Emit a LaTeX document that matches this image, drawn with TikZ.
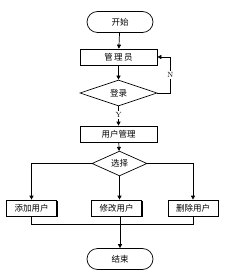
\documentclass[tikz,border=0pt]{standalone}
\usepackage{fontspec}
\newfontfamily\cjk{Noto Sans CJK SC}
\usetikzlibrary{shapes.geometric,shapes.misc,arrows.meta,shadows}
\begin{document}
\begin{tikzpicture}[x=1pt,y=-1pt,
  every node/.style={font=\cjk\fontsize{8.5}{9}\selectfont, inner sep=0pt},
  proc/.style={draw, line width=0.7pt, fill=white, minimum width=77pt, minimum height=16pt,
     drop shadow={shadow xshift=1pt, shadow yshift=-1pt, fill=black, opacity=1}},
  sproc/.style={proc, minimum width=50pt},
  term/.style={draw, line width=0.7pt, rounded rectangle, minimum width=66pt, minimum height=21pt},
  conn/.style={line width=0.7pt},
  arr/.style={conn, -{Triangle[length=4pt,width=4pt]}},
  lbl/.style={font=\fontsize{7.5}{8}\selectfont, fill=white, inner sep=1pt}
]
\useasboundingbox (0,0) rectangle (231,278);
\node[term] (start) at (120,22) {开始};
\node[proc] (admin) at (118.5,57) {管\,理\,员};
\node[draw, line width=0.7pt, shape=diamond, minimum width=77pt, minimum height=26pt] (login) at (118.5,93) {登录};
\node[proc] (um) at (118.5,134) {用户管理};
\node[draw, line width=0.7pt, shape=diamond, minimum width=55pt, minimum height=17pt] (sel) at (119.5,163.5) {选择};
\node[sproc] (add) at (31.5,208) {添加用户};
\node[sproc] (mod) at (116.5,208) {修改用户};
\node[sproc] (del) at (193,208) {删除用户};
\node[term] (end) at (120,259) {结束};
\coordinate (merge) at (120,224);

\draw[arr] (start) -- (admin);
\draw[arr] (admin) -- (login);
\draw[arr] (login.east) -- ++(13,0) |- node[pos=0.25,lbl]{N} (admin.east);
\draw[arr] (login.south) -- node[pos=0.45,lbl]{Y} (um.north);
\draw[arr] (um) -- (sel);
\draw[arr] (sel.west) -| (add.north);
\draw[arr] (sel.east) -| (del.north);
\draw[arr] (sel.south) -- (sel.south |- mod.north);
\draw[conn] (add.south) |- (merge);
\draw[conn] (del.south) |- (merge);
\draw[conn] (mod.south -| merge) -- (merge);
\draw[arr] (merge) -- (end);
\end{tikzpicture}
\end{document}
